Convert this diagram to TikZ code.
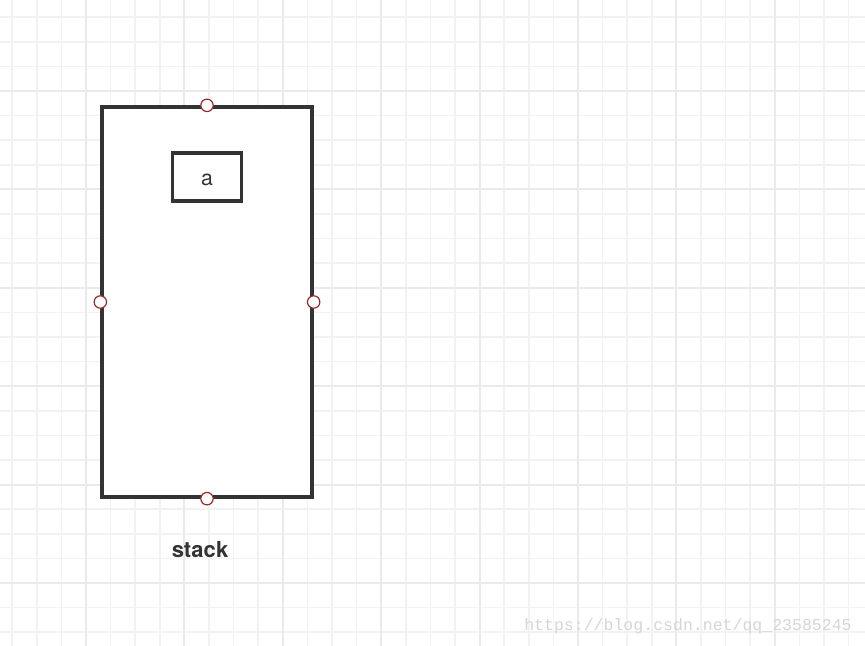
\documentclass[tikz,border=0pt]{standalone}
\usepackage{fontspec}
\setmainfont{TeX Gyre Heros}
\newfontfamily\wmfont{Liberation Mono}
\definecolor{gridminor}{HTML}{F2F2F2}
\definecolor{gridmajor}{HTML}{EAEAEA}
\definecolor{boxline}{HTML}{333333}
\definecolor{portred}{HTML}{9B2828}
\definecolor{wmgray}{HTML}{D6D6D6}
\begin{document}
\begin{tikzpicture}[x=0.75pt,y=-0.75pt,
  minorline/.style={draw=gridminor,line width=1.1pt},
  majorline/.style={draw=gridmajor,line width=1.5pt},
  boxstyle/.style={draw=boxline,line width=2.5pt,rectangle,inner sep=0pt,fill=white},
  port/.style={circle,draw=portred,fill=white,line width=0.9pt,minimum size=9.3pt,inner sep=0pt},
  labelstyle/.style={text=boxline,inner sep=0pt}]
\useasboundingbox (0,0) rectangle (865,646);
\fill[white] (0,0) rectangle (865,646);
\foreach \k in {0,...,35} \draw[minorline] ({12.2+24.6*\k},0) -- ({12.2+24.6*\k},646);
\foreach \k in {0,...,26} \draw[minorline] (0,{17.2+24.6*\k}) -- (865,{17.2+24.6*\k});
\foreach \k in {0,...,8} \draw[majorline] ({86+98.4*\k},0) -- ({86+98.4*\k},646);
\foreach \k in {0,...,6} \draw[majorline] (0,{-7.4+98.4*\k}) -- (865,{-7.4+98.4*\k});
\node[boxstyle,minimum width=157.5pt,minimum height=292.5pt] (stack) at (207,302) {};
\node[boxstyle,minimum width=51.75pt,minimum height=36pt,text=boxline,text height=12.3pt,text depth=0pt,font=\fontsize{16}{19}\selectfont] (a) at (207,177) {a};
\node[port] (pn) at (stack.north) {};
\node[port] (ps) at (stack.south) {};
\node[port] (pw) at (stack.west) {};
\node[port] (pe) at (stack.east) {};
\node[labelstyle,font=\bfseries\fontsize{16.5}{19}\selectfont] (stacklabel) at (200,550) {stack};
\node[text=wmgray,inner sep=0pt,font=\wmfont\fontsize{12.4}{14}\selectfont] (wm) at (688,626) {https://blog.csdn.net/qq\_23585245};
\end{tikzpicture}
\end{document}
